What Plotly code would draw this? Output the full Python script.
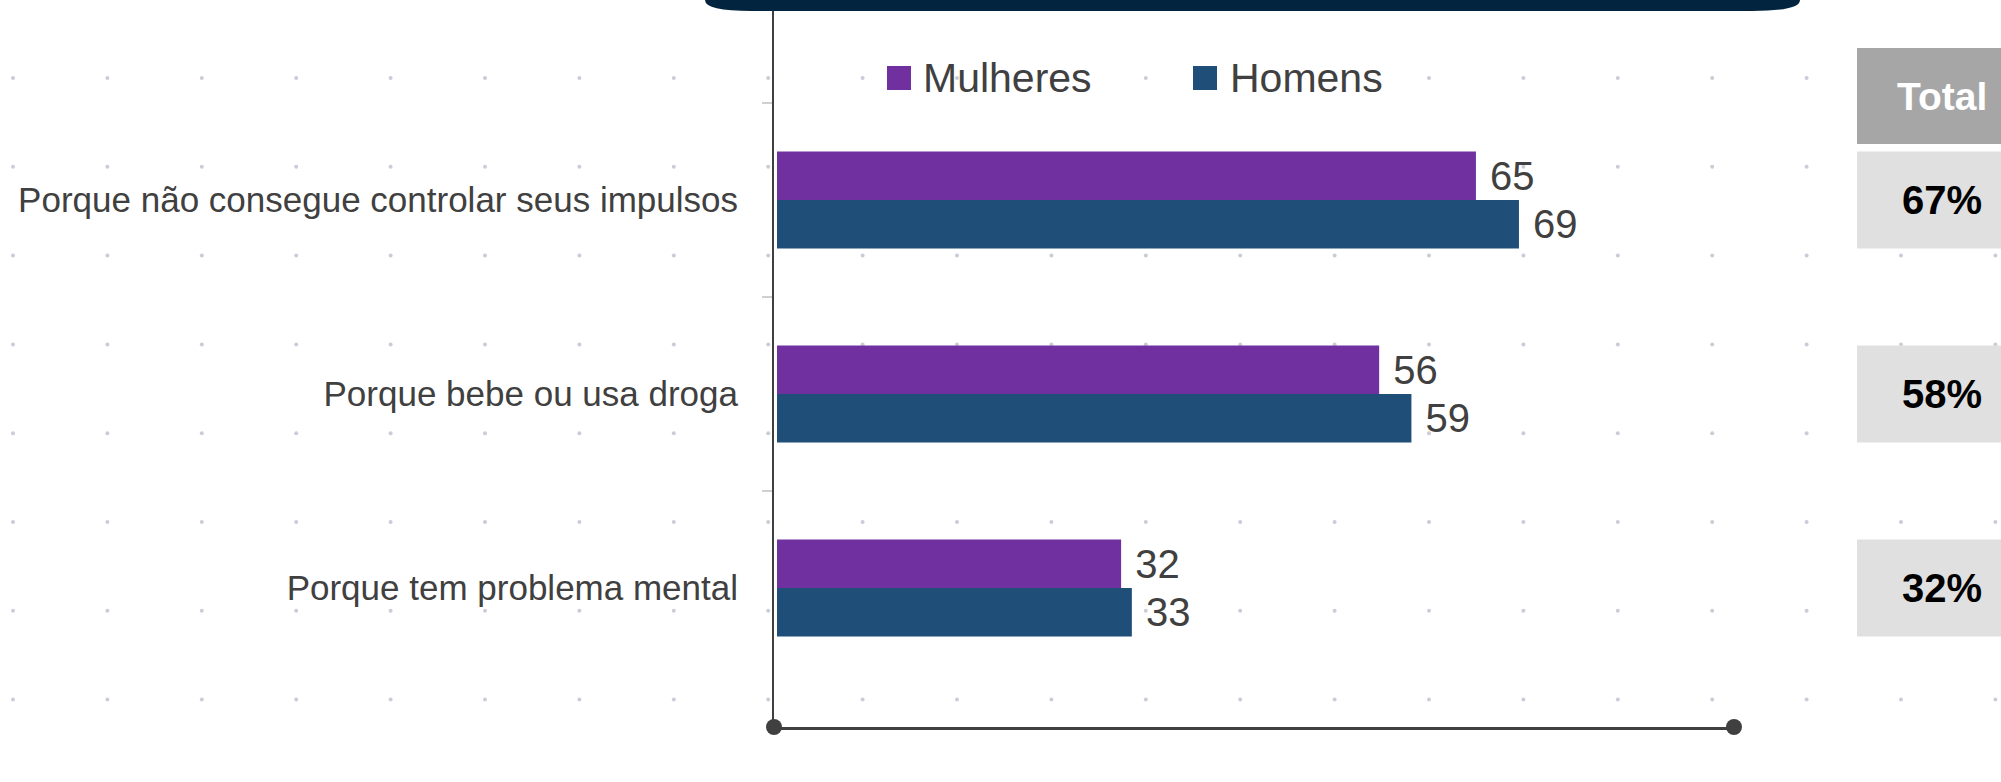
import plotly.graph_objects as go

# ---------------- data ----------------
categories = [
    "Porque não consegue controlar seus impulsos",
    "Porque bebe ou usa droga",
    "Porque tem problema mental",
]
series_names = ["Mulheres", "Homens"]
mulheres = [65, 56, 32]
homens = [69, 59, 33]
totals = [67, 58, 32]
total_header = "Total"

# ---------------- style ----------------
W, H = 2001, 782
PURPLE = "#7030A0"
BLUE = "#1F4E79"
TEXT = "#404040"
FONT = "Liberation Sans Narrow, Arial Narrow, Liberation Sans, Arial, sans-serif"
DOT = "#c9cdd8"
NAVY = "#03243f"


def px(x):
    return x / W


def py(y):
    return 1 - y / H


fig = go.Figure()
colors = [PURPLE, BLUE]
for name, vals, col in zip(series_names, [mulheres, homens], colors):
    fig.add_trace(go.Bar(
        y=categories, x=vals, name=name, orientation="h",
        marker=dict(color=col, line=dict(width=0)),
        texttemplate="\u00a0%{x}", textposition="outside",
        textfont=dict(family=FONT, size=40, color=TEXT),
        constraintext="none", cliponaxis=False,
        showlegend=False, hoverinfo="x+name",
    ))

shapes = []
# background dot grid (decoration)
for i in range(22):
    for j in range(8):
        cx = 13 + 94.4 * i
        cy = 78 + 88.8 * j
        shapes.append(dict(type="circle", xref="paper", yref="paper",
                           x0=px(cx - 2), x1=px(cx + 2), y0=py(cy + 2), y1=py(cy - 2),
                           fillcolor=DOT, line=dict(width=0), layer="below"))

# dark header band at top
path = (f"M{px(705)},{py(-10)} L{px(705)},{py(0)} Q{px(705)},{py(11)} {px(752)},{py(11)} "
        f"L{px(1752)},{py(11)} Q{px(1800)},{py(11)} {px(1800)},{py(0)} L{px(1800)},{py(-10)} Z")
shapes.append(dict(type="path", path=path, xref="paper", yref="paper",
                   fillcolor=NAVY, line=dict(width=0), layer="above"))

# bottom axis end dots
for xa in [0, 1]:
    shapes.append(dict(type="circle", xref="x domain", yref="y domain",
                       xsizemode="pixel", ysizemode="pixel", xanchor=xa, yanchor=0,
                       x0=-8, x1=8, y0=-8, y1=8,
                       fillcolor=TEXT, line=dict(width=0), layer="above"))

# legend (manual, larger swatches)
legend_pos = [(887, 921), (1193, 1228)]
annotations = []
for name, col, (sx, tx) in zip(series_names, colors, legend_pos):
    shapes.append(dict(type="rect", xref="paper", yref="paper",
                       x0=px(sx), x1=px(sx + 24), y0=py(90), y1=py(66),
                       fillcolor=col, line=dict(width=0), layer="above"))
    annotations.append(dict(xref="paper", yref="paper", x=px(tx), y=py(78),
                            text=name, showarrow=False, xanchor="left", yanchor="middle",
                            font=dict(family=FONT, size=41, color=TEXT)))

# totals column
shapes.append(dict(type="rect", xref="paper", yref="paper",
                   x0=px(1857), x1=px(2010), y0=py(144), y1=py(48),
                   fillcolor="#a6a6a6", line=dict(width=0), layer="above"))
annotations.append(dict(xref="paper", yref="paper", x=px(1942), y=py(96),
                        text=f"<b>{total_header}</b>", showarrow=False,
                        xanchor="center", yanchor="middle",
                        font=dict(family=FONT, size=39, color="white")))
for k, (cat, t) in enumerate(zip(categories, totals)):
    shapes.append(dict(type="rect", xref="paper", yref="y",
                       x0=px(1857), x1=px(2010), y0=k - 0.25, y1=k + 0.25,
                       fillcolor="#e0e0e0", line=dict(width=0), layer="above"))
    annotations.append(dict(xref="paper", yref="y", x=px(1942), y=k,
                            text=f"<b>{t}%</b>", showarrow=False,
                            xanchor="center", yanchor="middle",
                            font=dict(family=FONT, size=40, color="black")))

fig.update_layout(
    width=W, height=H, autosize=False,
    margin=dict(l=0, r=0, t=0, b=0, pad=0, autoexpand=False),
    paper_bgcolor="white", plot_bgcolor="rgba(0,0,0,0)",
    barmode="group", bargap=0.5, bargroupgap=0,
    showlegend=False,
    shapes=shapes, annotations=annotations,
    font=dict(family=FONT, color=TEXT),
    xaxis=dict(domain=[px(774), px(1734)], range=[-0.28, 89.0], automargin=False,
               showgrid=False, zeroline=False, showticklabels=False, ticks="",
               showline=True, linecolor=TEXT, linewidth=3),
    yaxis=dict(domain=[py(727), 1], type="category", categoryorder="array",
               categoryarray=categories, range=[2.716, -1.031], automargin=False,
               showgrid=False, zeroline=False,
               showline=True, linecolor=TEXT, linewidth=2,
               ticks="outside", ticklen=10, tickwidth=2, tickcolor="#d0d0d0",
               tickson="boundaries", ticklabelstandoff=27,
               tickfont=dict(family=FONT, size=35, color=TEXT)),
)

fig.write_html("out.html", config={"displayModeBar": False},
               post_script="document.body.style.margin='0';document.body.style.overflow='hidden';")
